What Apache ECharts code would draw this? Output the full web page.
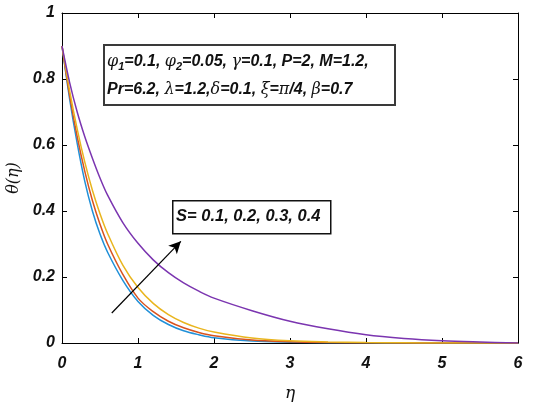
<!DOCTYPE html>
<html>
<head>
<meta charset="utf-8">
<script src="https://cdn.jsdelivr.net/npm/echarts@6/dist/echarts.min.js"></script>
<style>html,body{margin:0;padding:0;background:#fff;}#c{width:533px;height:403px;}</style>
</head>
<body>
<div id="c"></div>
<script>
// eta values (x axis)
var eta = [0, 0.1, 0.2, 0.3, 0.4, 0.5, 0.6, 0.8, 1.0, 1.2, 1.4, 1.6, 1.8, 2.0, 2.5, 3, 3.5, 4, 4.5, 5, 5.5, 6];
// theta(eta) for S = 0.1, 0.2, 0.3, 0.4
var thetaS01 = [0.90, 0.74, 0.605, 0.49, 0.40, 0.33, 0.275, 0.19, 0.126, 0.084, 0.056, 0.037, 0.025, 0.016, 0.006, 0.0025, 0.001, 0.0005, 0.0002, 0.0001, 0, 0];
var thetaS02 = [0.90, 0.75, 0.625, 0.52, 0.432, 0.36, 0.30, 0.208, 0.136, 0.095, 0.066, 0.046, 0.032, 0.022, 0.009, 0.004, 0.0017, 0.0008, 0.0003, 0.0001, 0, 0];
var thetaS03 = [0.90, 0.765, 0.648, 0.548, 0.463, 0.392, 0.332, 0.236, 0.168, 0.12, 0.086, 0.062, 0.045, 0.033, 0.015, 0.0065, 0.003, 0.0013, 0.0006, 0.0002, 0.0001, 0];
var thetaS04 = [0.90, 0.79, 0.70, 0.625, 0.56, 0.50, 0.448, 0.365, 0.302, 0.252, 0.213, 0.182, 0.157, 0.136, 0.098, 0.066, 0.043, 0.025, 0.014, 0.007, 0.003, 0];
var seriesNames = ['S=0.1', 'S=0.2', 'S=0.3', 'S=0.4'];
var xTicks = [0, 1, 2, 3, 4, 5, 6];
var yTicks = [0, 0.2, 0.4, 0.6, 0.8, 1];
// arrow annotation (data coordinates): tail and head
var arrowTail = [0.655, 0.091];
var arrowHead = [1.564, 0.308];

var colors = ['#2090d8', '#d9531e', '#e9b51e', '#7b35b0'];
var allTheta = [thetaS01, thetaS02, thetaS03, thetaS04];

function pairs(ys) { return eta.map(function (x, i) { return [x, ys[i]]; }); }

var labelFont = { fontFamily: 'Liberation Sans', fontWeight: 'bold', fontStyle: 'italic', fontSize: 16, color: '#111' };

var series = allTheta.map(function (ys, i) {
  return {
    name: seriesNames[i], type: 'line', data: pairs(ys), showSymbol: false, smooth: 0.35,
    lineStyle: { color: colors[i], width: 1.5 }, itemStyle: { color: colors[i] }, z: 3
  };
});
series[3].markLine = {
  silent: true, symbol: ['none', 'arrow'], symbolSize: [9, 12],
  lineStyle: { color: '#000', width: 1.2, type: 'solid' },
  label: { show: false },
  data: [[{ coord: arrowTail }, { coord: arrowHead }]]
};

var txt = { fontFamily: 'Liberation Sans', fontWeight: 'bold', fontStyle: 'italic', fontSize: 16, fill: '#111' };
var grk = { fontFamily: 'DejaVu Serif', fontStyle: 'italic', fontSize: 16, fill: '#111' };
var sub = { fontFamily: 'Liberation Sans', fontWeight: 'bold', fontStyle: 'italic', fontSize: 11, fill: '#111', padding: [10, 0, 0, 0] };

var option = {
  animation: false,
  backgroundColor: '#fff',
  grid: { left: 62, right: 15, top: 13, bottom: 60, containLabel: false, outerBoundsMode: 'none' },
  xAxis: [{
    type: 'value', min: 0, max: 6, interval: 1,
    axisLine: { show: true, lineStyle: { color: '#000', width: 1 } },
    axisTick: { show: true, inside: true, length: 5, lineStyle: { color: '#000' } },
    axisLabel: Object.assign({ margin: 13, formatter: function (v) { return xTicks.indexOf(v) >= 0 ? String(v) : ''; } }, labelFont),
    splitLine: { show: false },
    name: 'η', nameLocation: 'middle', nameGap: 42,
    nameTextStyle: { fontFamily: 'DejaVu Serif', fontStyle: 'italic', fontSize: 17, color: '#111' }
  }, {
    type: 'value', min: 0, max: 6, interval: 1, position: 'top',
    axisLine: { show: true, onZero: false, lineStyle: { color: '#000', width: 1 } },
    axisTick: { show: true, inside: true, length: 5, lineStyle: { color: '#000' } },
    axisLabel: { show: false }, splitLine: { show: false }
  }],
  yAxis: [{
    type: 'value', min: 0, max: 1, interval: 0.2,
    axisLine: { show: true, lineStyle: { color: '#000', width: 1 } },
    axisTick: { show: true, inside: true, length: 5, lineStyle: { color: '#000' } },
    axisLabel: Object.assign({ margin: 7, formatter: function (v) { var r = Math.round(v * 10) / 10; return yTicks.indexOf(r) >= 0 ? String(r) : ''; } }, labelFont),
    splitLine: { show: false },
    name: 'θ(η)', nameLocation: 'middle', nameGap: 34, nameRotate: 90,
    nameTextStyle: { fontFamily: 'DejaVu Serif', fontStyle: 'italic', fontSize: 16, color: '#111' }
  }, {
    type: 'value', min: 0, max: 1, interval: 0.2, position: 'right',
    axisLine: { show: true, onZero: false, lineStyle: { color: '#000', width: 1 } },
    axisTick: { show: true, inside: true, length: 5, lineStyle: { color: '#000' } },
    axisLabel: { show: false }, splitLine: { show: false }
  }],
  series: series,
  graphic: [
    { type: 'rect', left: 103, top: 44, z: 10, shape: { width: 291, height: 60 }, style: { fill: '#fff', stroke: '#3a3a3a', lineWidth: 2 } },
    { type: 'text', x: 107, y: 62, z: 11, style: {
        text: '{g|φ}{s|1}{t|=0.1, }{g|φ}{s|2}{t|=0.05, }{g|γ}{t|=0.1, P=2, M=1.2,}',
        verticalAlign: 'middle', align: 'left',
        rich: { t: txt, g: grk, s: sub } } },
    { type: 'text', x: 107, y: 89.5, z: 11, style: {
        text: '{t|Pr=6.2, }{g|λ}{t|=1.2,}{g|δ}{t|=0.1, }{g|ξ}{t|=}{g|π}{t|/4, }{g|β}{t|=0.7}',
        verticalAlign: 'middle', align: 'left',
        rich: { t: txt, g: grk, s: sub } } },
    { type: 'rect', left: 172, top: 200, z: 10, shape: { width: 158, height: 33 }, style: { fill: '#fff', stroke: '#111', lineWidth: 1.5 } },
    { type: 'text', x: 176, y: 216.5, z: 11, style: {
        text: 'S= 0.1, 0.2, 0.3, 0.4', verticalAlign: 'middle', align: 'left',
        fontFamily: 'Liberation Sans', fontWeight: 'bold', fontStyle: 'italic', fontSize: 16.5, fill: '#111' } }
  ]
};
var chart = echarts.init(document.getElementById('c'), null, { renderer: 'canvas' });
chart.setOption(option);
</script>
</body>
</html>
